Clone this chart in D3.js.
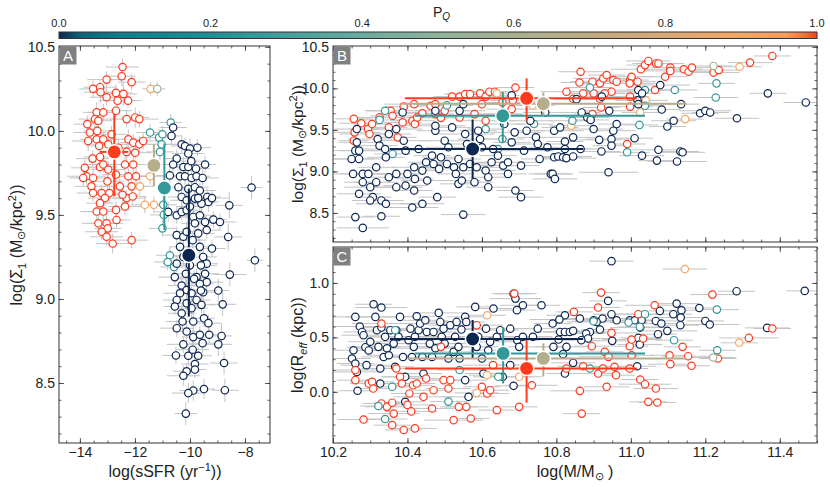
<!DOCTYPE html>
<html><head><meta charset="utf-8">
<script src="https://cdn.jsdelivr.net/npm/d3@7"></script>
<style>
body{margin:0;background:#fff}
text{font-family:"Liberation Sans",Arial,Helvetica,sans-serif;fill:#222}
</style>
</head><body>
<svg id="chart" width="830" height="487"></svg>
<script>
// ---------- colour map (P_Q) ----------
const pqStops  = [0, 0.03, 0.08, 0.2, 0.3, 0.4, 0.5, 0.6, 0.7, 0.8, 0.9, 0.96, 0.985, 1];
const pqColors = ["#0c2650","#0d6577","#0f7e8a","#1f8f94","#45a09c","#6aab9f","#8fb29c","#a9b090","#bfab83","#d8a877","#f4a766","#fb9a5c","#ff6a3a","#ff3a1e"];
const cbTicks  = [0, 0.2, 0.4, 0.6, 0.8, 1.0];

// ---------- tick values ----------
const ticksAx = [-14, -12, -10, -8];
const ticksSigma = [8.5, 9.0, 9.5, 10.0, 10.5];
const ticksMass = [10.2, 10.4, 10.6, 10.8, 11.0, 11.2, 11.4];
const ticksReff = [0.0, 0.5, 1.0];

// ---------- panel A: [log sSFR, log Sigma1, P_Q, xerr, yerr] ----------
const pointsA = [
[-12.45,10.38,1,.6,.05],[-12.48,10.325,1,.5,.06],[-13.03,10.305,1,.7,.05],[-13.27,10.26,1,.6,.04],[-13.52,10.25,1,.5,.05],[-13.25,10.23,1,.6,.06],[-12.12,10.29,1,.5,.05],[-12.69,10.226,1,.6,.05],[-12.42,10.22,1,.5,.07],[-13.03,10.2,1,.6,.05],
[-12.63,10.18,1,.7,.05],[-12.25,10.18,1,.5,.04],[-12.69,10.12,1,.6,.05],[-13.39,10.11,1,.5,.06],[-13.15,10.11,1,.6,.05],[-13.45,10.07,1,.6,.05],[-13.33,10.06,1,.5,.04],[-12.3,10.07,1,.6,.05],[-11.99,10.08,1,.5,.06],[-11.84,10.07,1,.7,.05],
[-13.64,9.99,1,.6,.05],[-13.37,10.0,1,.5,.05],[-13.7,9.94,1,.6,.06],[-13.39,9.95,1,.6,.05],[-13.15,9.95,1,.5,.04],[-12.97,9.92,1,.6,.05],[-13.3,9.91,1,.5,.05],[-12.24,9.95,1,.6,.06],[-12.06,9.93,1,.5,.05],[-11.84,9.92,1,.6,.05],
[-11.7,9.94,1,.7,.05],[-11.99,9.87,1,.6,.04],[-12.3,9.875,1,.5,.05],[-13.54,9.835,1,.6,.05],[-13.27,9.845,1,.6,.06],[-13.82,9.78,1,.5,.05],[-13.76,9.73,1,.7,.05],[-13.52,9.72,1,.6,.05],[-13.27,9.785,1,.5,.04],[-13.15,9.8,1,.6,.05],
[-12.97,9.77,1,.6,.05],[-12.36,9.8,1,.5,.06],[-12.06,9.8,1,.6,.05],[-11.96,9.73,1,.7,.05],[-12.24,9.73,1,.6,.05],[-12.69,9.74,1,.5,.05],[-12.55,9.67,1,.6,.06],[-12.12,9.67,1,.6,.05],[-13.88,9.72,1,.5,.05],[-13.58,9.67,1,.6,.04],
[-13.52,9.63,1,.6,.05],[-13.21,9.63,1,.5,.05],[-12.93,9.63,1,.6,.06],[-13.09,9.6,1,.6,.05],[-13.27,9.57,1,.5,.05],[-13.39,9.52,1,.6,.05],[-13.15,9.52,1,.6,.06],[-12.69,9.53,1,.5,.05],[-12.3,9.6,1,.7,.05],[-12.36,9.55,1,.6,.05],
[-12.08,9.61,1,.5,.05],[-13.33,9.45,1,.6,.05],[-13.03,9.45,1,.6,.06],[-12.99,9.42,1,.5,.05],[-13.21,9.4,1,.6,.05],[-13.03,9.37,1,.6,.05],[-12.67,9.47,1,.5,.05],[-12.81,9.33,1,.6,.06],[-12.12,9.35,1,.6,.05],[-13.73,10.04,1,.5,.05],
[-12.85,9.98,1,.6,.05],[-12.6,9.9,1,.5,.05],[-13.0,9.7,1,.6,.05],[-12.45,9.62,1,.6,.05],
[-11.43,10.25,0.9,.3,.04],[-11.19,10.25,0.6,.3,.04],[-11.45,9.73,0.9,.5,.05],[-11.64,9.56,0.9,.5,.05],[-11.31,9.56,0.9,.4,.05],[-11.82,9.67,0.9,.5,.05],
[-11.45,9.99,.25,.5,.05],[-11.12,9.96,.25,.5,.05],[-11.0,9.98,.25,.5,.05],[-10.7,10.05,.25,.4,.05],[-11.09,9.875,.25,.5,.05],[-11.03,9.92,.25,.5,.05],[-10.97,9.56,.25,.5,.05],[-10.95,9.5,.25,.5,.05],[-11.0,9.42,.25,.5,.05],[-10.73,9.26,.25,.5,.05],[-10.81,9.22,.25,.5,.05],[-10.58,9.19,.25,.5,.05],
[-10.61,10.02,0,.5,.06],[-10.67,9.97,0,.4,.05],[-10.3,9.92,0,.6,.05],[-10.18,9.91,0,.5,.05],[-10.0,9.895,0,.4,.06],[-9.73,9.9,0,.5,.05],[-10.06,9.865,0,.6,.05],[-10.48,9.835,0,.5,.05],[-10.61,9.8,0,.4,.05],[-10.24,9.785,0,.5,.06],
[-10.06,9.785,0,.6,.05],[-9.78,9.775,0,.5,.05],[-9.45,9.8,0,.4,.05],[-10.73,9.735,0,.5,.05],[-10.36,9.73,0,.6,.06],[-10.18,9.73,0,.5,.05],[-9.94,9.72,0,.4,.05],[-9.76,9.73,0,.5,.05],[-9.54,9.72,0,.6,.05],[-10.42,9.665,0,.5,.06],
[-10.06,9.655,0,.4,.05],[-9.82,9.665,0,.5,.05],[-9.64,9.645,0,.6,.05],[-9.37,9.607,0,.5,.05],[-9.33,9.577,0,.4,.06],[-10.3,9.607,0,.5,.05],[-10.12,9.587,0,.6,.05],[-9.82,9.597,0,.5,.05],[-9.58,9.567,0,.4,.05],[-10.79,9.518,0,.5,.06],
[-10.48,9.498,0,.6,.05],[-10.3,9.518,0,.5,.05],[-10.12,9.528,0,.4,.05],[-9.88,9.488,0,.5,.05],[-9.64,9.498,0,.6,.06],[-9.82,9.45,0,.5,.05],[-9.45,9.458,0,.4,.05],[-9.15,9.472,0,.5,.05],[-8.91,9.458,0,.6,.05],[-8.57,9.557,0,.5,.08],
[-7.76,9.663,0,.4,.07],[-8.61,9.369,0,.5,.08],[-8.55,9.145,0,.6,.07],[-10.48,9.38,0,.5,.05],[-10.24,9.37,0,.4,.05],[-10.12,9.4,0,.5,.06],[-9.7,9.39,0,.6,.05],[-9.39,9.41,0,.5,.05],[-10.36,9.31,0,.4,.05],[-10.24,9.25,0,.5,.05],
[-9.64,9.31,0,.6,.06],[-9.52,9.25,0,.5,.05],[-9.39,9.21,0,.4,.05],[-10.48,9.21,0,.5,.05],[-7.64,9.23,0,.3,.07],[-10.55,9.13,0,.6,.05],[-10.15,9.15,0,.5,.06],[-9.76,9.13,0,.4,.05],[-9.45,9.15,0,.5,.05],[-9.39,9.1,0,.6,.05],
[-10.3,9.08,0,.5,.05],[-10.12,9.053,0,.4,.06],[-9.64,9.09,0,.5,.05],[-10.36,9.034,0,.6,.05],[-9.94,9.034,0,.5,.05],[-9.52,9.04,0,.4,.05],[-10.48,8.994,0,.5,.06],[-10.12,8.974,0,.6,.05],[-9.76,8.994,0,.5,.05],[-10.55,8.955,0,.4,.05],
[-10.3,8.915,0,.5,.05],[-9.94,8.945,0,.6,.06],[-9.58,8.965,0,.5,.05],[-8.97,9.05,0,.4,.07],[-8.81,8.968,0,.5,.07],[-10.27,8.866,0,.6,.05],[-9.88,8.866,0,.5,.06],[-9.49,8.885,0,.4,.05],[-9.33,8.856,0,.5,.05],[-10.48,8.826,0,.6,.05],
[-10.12,8.806,0,.5,.06],[-9.88,8.773,0,.4,.05],[-9.64,8.787,0,.5,.05],[-9.3,8.787,0,.6,.05],[-9.54,8.737,0,.5,.06],[-8.85,8.78,0,.4,.07],[-8.97,8.73,0,.5,.07],[-10.24,8.73,0,.6,.05],[-10.51,8.664,0,.5,.05],[-10.06,8.662,0,.4,.06],
[-9.7,8.662,0,.5,.05],[-9.9,8.698,0,.6,.05],[-9.82,8.613,0,.5,.06],[-9.82,8.58,0,.4,.05],[-10.12,8.57,0,.5,.05],[-10.24,8.543,0,.6,.06],[-8.76,8.619,0,.5,.07],[-9.49,8.464,0,.4,.06],[-9.88,8.455,0,.5,.06],[-10.06,8.44,0,.6,.06],
[-8.73,8.457,0,.5,.07],[-10.15,8.318,0,.4,.07],[-9.9,9.35,0,.5,.05],[-9.6,9.2,0,.6,.05],[-10.0,9.55,0,.5,.05],[-9.7,9.6,0,.4,.05],[-9.95,9.82,0,.5,.05],[-9.2,9.6,0,.6,.05],[-9.6,9.05,0,.5,.05],[-10.0,9.2,0,.4,.05],[-9.2,9.3,0,.5,.05],[-9.85,9.12,0,.6,.05]
];

// ---------- panel B: [log M, log Sigma1, P_Q, xerr] ----------
const pointsB = [
[10.256,9.633,1,.05],[10.258,9.47,1,.07],[10.256,9.37,1,.04],[10.276,9.58,1,.06],[10.294,9.51,1,.05],[10.298,9.45,1,.08],[10.305,9.57,1,.05],[10.325,9.65,1,.06],[10.35,9.53,1,.05],[10.355,9.73,1,.07],
[10.374,9.41,1,.05],[10.36,9.67,1,.06],[10.39,9.78,1,.05],[10.418,9.81,1,.08],[10.387,9.59,1,.05],[10.413,9.61,1,.06],[10.42,9.57,1,.05],[10.44,9.70,1,.07],[10.462,9.79,1,.05],[10.475,9.81,1,.06],
[10.475,9.69,1,.05],[10.50,9.73,1,.08],[10.52,9.90,1,.05],[10.54,9.90,1,.06],[10.555,9.93,1,.05],[10.568,9.93,1,.07],[10.58,9.69,1,.05],[10.595,9.94,1,.06],[10.6,9.81,1,.05],[10.61,9.90,1,.08],
[10.62,9.96,1,.05],[10.635,9.96,1,.06],[10.655,9.83,1,.05],[10.68,9.75,1,.07],[10.69,10.01,1,.05],[10.683,9.855,1,.06],[10.66,9.69,1,.05],[10.61,9.61,1,.08],[10.54,9.65,1,.05],[10.49,9.645,1,.06],[10.426,9.65,1,.05],
[10.865,10.2,1,.06],[10.862,10.07,1,.05],[10.827,9.96,1,.07],[10.872,9.94,1,.05],[10.897,10.08,1,.06],[10.917,10.06,1,.05],[10.926,10.12,1,.08],[10.935,10.16,1,.05],[10.953,10.1,1,.06],[10.962,10.08,1,.05],
[10.948,9.96,1,.07],[10.93,9.94,1,.05],[10.917,9.875,1,.06],[10.92,9.77,1,.05],[10.9,9.94,1,.08],[10.998,10.1,1,.05],[11.002,10.14,1,.06],[11.018,10.08,1,.05],[10.997,10.06,1,.07],[10.998,9.9,1,.05],
[10.998,9.78,1,.06],[10.99,9.33,1,.05],[11.027,10.23,1,.08],[11.038,10.28,1,.05],[11.047,10.33,1,.06],[11.068,10.3,1,.05],[11.074,10.3,1,.07],[11.065,9.98,1,.05],[11.092,10.14,1,.06],[11.106,10.25,1,.05],
[11.106,10.21,1,.08],[11.142,10.23,1,.05],[11.155,10.2,1,.06],[11.164,10.25,1,.05],[11.222,10.19,1,.07],[11.236,10.22,1,.05],[11.32,10.31,1,.06],[11.38,10.39,1,.05],[10.845,9.875,1,.06],[10.897,9.69,1,.05],
[11.222,10.27,0.6,.05],
[11.292,10.26,0.9,.06],[11.146,9.63,0.9,.05],[11.04,9.855,0.9,.06],[11.025,9.71,0.9,.05],[10.84,9.55,0.9,.06],[10.64,9.94,0.9,.05],[10.736,9.795,0.9,.06],
[10.34,9.73,.25,.05],[10.325,9.62,.25,.06],[10.36,9.21,.25,.05],[10.506,9.795,.25,.07],[10.61,9.51,.25,.05],[10.655,9.39,.25,.06],[10.643,9.27,.25,.05],[10.648,9.69,.25,.06],[10.74,9.57,.25,.05],
[10.89,10.01,.25,.06],[11.038,9.98,.25,.05],[11.118,9.98,.25,.06],[11.23,10.06,.25,.05],[11.228,9.89,.25,.06],[11.023,9.56,.25,.05],[10.99,9.23,.25,.06],[11.038,9.79,.25,.05],[10.843,9.61,.25,.06],
[10.25,9.15,0,.06],[10.254,8.97,0,.05],[10.26,9.25,0,.07],[10.264,9.35,0,.05],[10.264,9.51,0,.06],[10.27,9.25,0,.05],[10.27,9.15,0,.08],[10.28,8.87,0,.05],[10.28,8.97,0,.06],[10.295,8.97,0,.05],
[10.3,8.81,0,.07],[10.307,8.69,0,.05],[10.316,8.87,0,.06],[10.316,9.05,0,.05],[10.32,9.39,0,.08],[10.325,9.31,0,.05],[10.33,8.65,0,.06],[10.33,8.46,0,.05],[10.28,8.32,0,.07],[10.26,8.45,0,.05],
[10.27,8.73,0,.06],[10.3,8.65,0,.05],[10.342,8.61,0,.08],[10.342,9.17,0,.05],[10.34,9.27,0,.06],[10.35,8.93,0,.05],[10.37,9.51,0,.07],[10.37,8.97,0,.05],[10.35,9.45,0,.06],[10.387,9.71,0,.05],
[10.39,9.37,0,.08],[10.395,9.25,0,.05],[10.395,8.83,0,.06],[10.4,8.97,0,.05],[10.413,8.565,0,.07],[10.418,8.77,0,.05],[10.418,9.05,0,.06],[10.42,8.91,0,.05],[10.43,9.27,0,.08],[10.44,9.01,0,.05],
[10.44,8.61,0,.06],[10.45,9.11,0,.05],[10.453,8.89,0,.07],[10.466,9.19,0,.05],[10.47,9.09,0,.06],[10.475,9.49,0,.05],[10.475,9.55,0,.08],[10.475,9.73,0,.05],[10.485,9.03,0,.06],[10.49,9.17,0,.05],
[10.50,9.37,0,.07],[10.506,9.09,0,.05],[10.51,9.29,0,.06],[10.52,9.53,0,.05],[10.525,9.05,0,.08],[10.53,8.97,0,.05],[10.537,9.15,0,.06],[10.537,8.85,0,.05],[10.54,9.73,0,.07],[10.546,8.89,0,.05],
[10.55,8.48,0,.06],[10.55,9.05,0,.05],[10.555,9.45,0,.08],[10.56,9.33,0,.05],[10.568,9.09,0,.06],[10.58,8.87,0,.05],[10.586,9.05,0,.07],[10.59,9.49,0,.05],[10.595,9.39,0,.06],[10.6,9.29,0,.05],
[10.61,9.01,0,.08],[10.617,8.93,0,.05],[10.617,8.81,0,.06],[10.626,9.11,0,.05],[10.63,9.27,0,.07],[10.643,9.19,0,.05],[10.657,9.07,0,.06],[10.66,9.57,0,.05],[10.67,9.11,0,.08],[10.67,8.97,0,.05],
[10.68,9.915,0,.06],[10.68,9.35,0,.05],[10.688,9.47,0,.07],[10.69,8.77,0,.05],[10.705,8.69,0,.06],[10.705,9.07,0,.05],[10.713,9.25,0,.08],[10.72,9.49,0,.05],[10.73,9.61,0,.06],[10.745,9.41,0,.05],
[10.75,9.33,0,.07],[10.755,9.15,0,.05],[10.77,9.71,0,.06],[10.776,9.29,0,.05],[10.794,9.49,0,.08],[10.794,9.17,0,.05],[10.785,8.97,0,.06],[10.48,8.69,0,.05],[10.37,8.81,0,.07],[10.55,9.81,0,.05],
[10.854,9.87,0,.06],[10.922,9.9,0,.05],[10.942,9.73,0,.07],[10.868,9.71,0,.05],[10.883,9.65,0,.06],[10.892,9.62,0,.05],[10.9,9.51,0,.08],[10.81,9.53,0,.05],[10.845,9.41,0,.06],[10.823,9.36,0,.05],
[10.823,9.27,0,.07],[10.865,9.27,0,.05],[10.805,9.18,0,.06],[10.818,9.17,0,.05],[10.827,9.16,0,.08],[10.845,9.18,0,.05],[10.915,9.38,0,.06],[10.921,9.24,0,.05],[10.948,9.39,0,.07],[10.948,9.31,0,.05],
[10.953,9.49,0,.06],[10.962,9.57,0,.05],[10.94,8.99,0,.08],[10.79,8.97,0,.05],[10.796,8.91,0,.06],[11.01,9.4,0,.05],[11.02,9.98,0,.07],[11.03,9.94,0,.05],[11.018,9.855,0,.06],[11.02,9.81,0,.05],
[11.079,10.04,0,.08],[11.083,9.745,0,.05],[11.03,9.19,0,.06],[11.07,9.13,0,.05],[11.074,9.26,0,.07],[11.098,9.54,0,.05],[11.115,9.61,0,.06],[11.135,9.81,0,.05],[11.124,9.12,0,.08],[11.133,9.24,0,.05],
[11.139,9.23,0,.06],[11.186,9.7,0,.05],[11.2,9.73,0,.07],[11.213,9.71,0,.05],[11.285,9.64,0,.06],[11.368,9.94,0,.05],[11.47,9.83,0,.06]
];

// ---------- panel C: [log M, log Reff, P_Q, xerr] ----------
const pointsC = [
[10.26,0.688,0,.06],[10.251,0.306,0,.05],[10.255,0.382,0,.07],[10.26,0.26,0,.05],[10.264,0.183,0,.06],[10.266,0.01,0,.05],[10.272,0.6,0,.08],[10.278,0.55,0,.05],[10.282,0.52,0,.06],[10.287,0.41,0,.05],
[10.29,0.245,0,.07],[10.296,0.38,0,.05],[10.3,0.46,0,.06],[10.309,0.804,0,.05],[10.314,0.688,0,.08],[10.318,0.566,0,.05],[10.322,0.413,0,.06],[10.327,0.214,0,.05],[10.33,0.774,0,.07],[10.33,0.59,0,.05],
[10.336,0.32,0,.06],[10.34,0.505,0,.05],[10.345,0.4,0,.08],[10.327,0.076,0,.05],[10.35,0.336,0,.06],[10.354,0.566,0,.05],[10.363,0.443,0,.07],[10.367,0.23,0,.05],[10.37,0.566,0,.06],[10.38,0.688,0,.05],
[10.376,0.505,0,.08],[10.388,0.32,0,.05],[10.394,0.138,0,.06],[10.394,-0.092,0,.05],[10.403,0.474,0,.07],[10.408,0.58,0,.05],[10.412,0.32,0,.06],[10.417,0.413,0,.05],[10.42,0.505,0,.08],[10.425,0.694,0,.05],
[10.43,0.566,0,.06],[10.434,0.627,0,.05],[10.44,0.32,0,.07],[10.443,0.168,0,.05],[10.448,0.657,0,.06],[10.452,0.55,0,.05],[10.46,0.443,0,.08],[10.466,0.32,0,.05],[10.47,0.55,0,.06],[10.475,0.4,0,.05],
[10.484,0.725,0,.07],[10.488,0.642,0,.05],[10.492,0.505,0,.06],[10.497,0.58,0,.05],[10.5,0.443,0,.08],[10.51,0.306,0,.05],[10.515,0.612,0,.06],[10.524,0.367,0,.05],[10.528,0.505,0,.07],[10.532,0.642,0,.05],
[10.537,0.413,0,.06],[10.54,0.306,0,.05],[10.545,0.572,0,.08],[10.555,0.688,0,.05],[10.555,0.107,0,.06],[10.558,0.642,0,.05],[10.564,-0.046,0,.07],[10.582,0.78,0,.05],[10.586,0.413,0,.06],[10.59,0.505,0,.05],
[10.6,0.306,0,.08],[10.604,0.168,0,.05],[10.611,0.58,0,.06],[10.617,0.382,0,.05],[10.622,0.459,0,.07],[10.631,0.765,0,.05],[10.64,0.505,0,.06],[10.649,0.566,0,.05],[10.656,0.138,0,.08],[10.676,0.58,0,.05],
[10.676,0.245,0,.06],[10.685,0.9,0,.05],[10.69,0.856,0,.07],[10.694,0.75,0,.05],[10.695,0.474,0,.06],[10.7,0.413,0,.05],[10.71,0.505,0,.08],[10.685,0.055,0,.05],[10.71,0.795,0,.06],[10.737,0.505,0,.05],
[10.75,0.58,0,.07],[10.76,0.795,0,.05],
[10.948,1.2,0,.06],[10.939,0.835,0,.05],[10.924,0.673,0,.07],[10.948,0.713,0,.05],[10.962,0.657,0,.06],[10.917,0.572,0,.05],[10.908,0.642,0,.08],[10.9,0.657,0,.05],[10.89,0.55,0,.06],[10.88,0.535,0,.05],
[10.885,0.49,0,.07],[10.867,0.474,0,.05],[10.863,0.673,0,.06],[10.823,0.703,0,.05],[10.808,0.664,0,.08],[10.79,0.627,0,.05],[10.81,0.55,0,.06],[10.823,0.55,0,.05],[10.836,0.55,0,.07],[10.845,0.56,0,.05],
[10.806,0.48,0,.06],[10.792,0.413,0,.05],[10.827,0.413,0,.08],[10.818,0.346,0,.05],[10.845,0.266,0,.06],[10.823,0.168,0,.05],[10.95,0.468,0,.07],[10.997,0.657,0,.05],[11.011,0.657,0,.06],[11.029,0.657,0,.05],
[11.025,0.59,0,.08],[11.02,0.495,0,.05],[11.024,0.434,0,.06],[11.017,0.235,0,.05],[11.067,0.651,0,.07],[11.078,0.743,0,.05],[11.082,0.627,0,.06],[11.073,0.529,0,.05],[11.098,0.56,0,.08],[11.114,0.713,0,.05],
[11.123,0.81,0,.06],[11.136,0.749,0,.05],[11.134,0.682,0,.07],[11.133,0.612,0,.05],[11.184,0.77,0,.06],[11.2,0.651,0,.05],[11.212,0.618,0,.08],[11.284,0.924,0,.05],[11.366,0.587,0,.06],[11.467,0.927,0,.05],
[10.26,0.2,1,.06],[10.26,0.107,1,.05],[10.282,-0.254,1,.07],[10.296,0.076,1,.05],[10.305,0.092,1,.06],[10.308,0.03,1,.05],[10.33,0.627,1,.08],[10.33,-0.107,1,.05],[10.345,-0.138,1,.06],[10.359,-0.1,1,.05],
[10.363,-0.2,1,.07],[10.359,-0.306,1,.05],[10.37,0.214,1,.06],[10.38,0.138,1,.05],[10.385,0.076,1,.08],[10.39,-0.35,1,.05],[10.4,-0.12,1,.06],[10.405,-0.015,1,.05],[10.41,-0.18,1,.07],[10.415,0.06,1,.05],
[10.42,-0.336,1,.06],[10.425,0.076,1,.05],[10.443,-0.046,1,.08],[10.45,0.122,1,.05],[10.466,-0.153,1,.06],[10.47,0.015,1,.05],[10.49,0.413,1,.07],[10.497,0.107,1,.05],[10.51,0.03,1,.06],[10.515,0.107,1,.05],
[10.524,-0.26,1,.08],[10.538,-0.138,1,.05],[10.558,-0.138,1,.06],[10.57,-0.245,1,.05],[10.586,0.612,1,.07],[10.6,0.046,1,.05],[10.614,-0.015,1,.06],[10.622,0.015,1,.05],[10.63,0.245,1,.08],[10.64,-0.168,1,.05],
[10.687,0.902,1,.06],[10.7,-0.138,1,.05],[10.734,0.06,1,.07],
[10.92,0.911,1,.05],[10.912,0.774,1,.06],[10.847,0.734,1,.05],[10.863,0.009,1,.08],[10.868,-0.2,1,.05],[10.935,0.046,1,.06],[10.895,0.419,1,.05],[10.872,0.235,1,.07],[10.827,0.214,1,.05],[10.912,0.168,1,.06],
[10.93,0.367,1,.05],[10.94,0.321,1,.08],[10.925,0.214,1,.05],[10.956,0.23,1,.06],[10.96,0.153,1,.05],[10.948,0.541,1,.07],[10.997,0.419,1,.05],[11.002,0.336,1,.06],[10.997,0.214,1,.05],[11.002,0.48,1,.08],
[11.033,0.489,1,.05],[11.02,0.713,1,.06],[11.025,0.113,1,.05],[11.038,0.07,1,.07],[11.047,-0.092,1,.05],[11.067,0.03,1,.06],[11.071,-0.098,1,.05],[11.064,0.795,1,.08],[11.104,0.336,1,.05],[11.106,0.254,1,.06],
[11.139,0.413,1,.05],[11.154,0.327,1,.07],[11.163,0.239,1,.05],[11.219,0.893,1,.06],[11.234,0.306,1,.05],[11.317,0.495,1,.08],[11.38,0.581,1,.05],
[10.614,0.703,0.9,.05],[10.586,-0.01,0.9,.06],[10.614,0.153,0.9,.05],[10.7,0.138,0.9,.06],[11.145,1.128,0.9,.06],[11.291,0.45,0.9,.05],
[11.221,0.315,0.6,.06],
[10.322,-0.13,.25,.05],[10.34,-0.25,.25,.06],[10.359,0.046,.25,.05],[10.367,0.566,.25,.06],[10.51,-0.09,.25,.05],[10.54,0.2,.25,.06],[10.644,0.138,.25,.05],
[11.038,0.713,.25,.05],[11.024,0.596,.25,.06],[10.994,0.636,.25,.05],[10.9,0.648,.25,.06],[11.116,0.474,.25,.05],[11.231,0.755,.25,.06],[11.232,0.382,.25,.05],[10.89,0.214,.25,.06]
];

// ---------- group means: [x, y, xLo, xHi, yLo, yHi, P_Q] ----------
const meansA = [
[-10.04, 9.26, -10.22, -9.86, 8.895, 9.657, 0],
[-10.93, 9.66, -11.05, -10.8, 9.41, 9.925, 0.25],
[-11.31, 9.795, -11.45, -11.2, 9.67, 9.92, 0.65],
[-12.75, 9.875, -13.27, -12.24, 9.61, 10.1, 1]
];
const meansB = [
[10.575, 9.27, 10.353, 10.872, 8.91, 9.625, 0],
[10.656, 9.67, 10.42, 11.038, 9.35, 9.955, 0.25],
[10.765, 9.815, 10.38, 11.15, 9.67, 9.95, 0.65],
[10.72, 9.88, 10.393, 11.016, 9.61, 10.12, 1]
];
const meansC = [
[10.575, 0.485, 10.353, 10.872, 0.31, 0.66, 0],
[10.657, 0.353, 10.42, 11.038, 0.077, 0.59, 0.25],
[10.765, 0.307, 10.4, 11.15, 0.14, 0.445, 0.65],
[10.72, 0.215, 10.393, 11.016, -0.1, 0.475, 1]
];

// ---------- drawing ----------
const svg = d3.select("#chart");
const color = d3.scaleLinear().domain(pqStops).range(pqColors).interpolate(d3.interpolateRgb);

const panels = {
  A: {x0:59, y0:46, w:211, h:397, xd:[-14.76,-7.09], yd:[8.143,10.505]},
  B: {x0:333, y0:46, w:484, h:196, xd:[10.2,11.5], yd:[8.15,10.51]},
  C: {x0:333, y0:247, w:484, h:196, xd:[10.2,11.5], yd:[-0.47,1.33]}
};

function range(a,b,s){ const out=[]; for(let v=a; v<=b+1e-9; v+=s) out.push(+v.toFixed(4)); return out; }

function drawPanel(key, pts, means, opt){
  const P = panels[key];
  const g = svg.append("g").attr("transform",`translate(${P.x0},${P.y0})`);
  const x = d3.scaleLinear().domain(P.xd).range([0,P.w]);
  const y = d3.scaleLinear().domain(P.yd).range([P.h,0]);
  const cid = "clip"+key;
  g.append("clipPath").attr("id",cid).append("rect").attr("width",P.w).attr("height",P.h);
  const plot = g.append("g").attr("clip-path",`url(#${cid})`);

  // gray error bars
  const eb = plot.append("g").attr("stroke","#c4c4c4").attr("stroke-width",1);
  pts.forEach(d=>{
    const xe = d[3], ye = (d.length>4? d[4] : opt.yerr);
    eb.append("line").attr("x1",x(d[0]-xe)).attr("x2",x(d[0]+xe)).attr("y1",y(d[1])).attr("y2",y(d[1]));
    eb.append("line").attr("x1",x(d[0])).attr("x2",x(d[0])).attr("y1",y(d[1]-ye)).attr("y2",y(d[1]+ye));
  });
  // open circles
  plot.append("g").selectAll("circle").data(pts).join("circle")
    .attr("cx",d=>x(d[0])).attr("cy",d=>y(d[1])).attr("r",3.7)
    .attr("fill","#fff").attr("stroke",d=>color(d[2])).attr("stroke-width",1.2);
  // mean error bars
  const mg = plot.append("g");
  means.forEach(m=>{
    const c = color(m[6]);
    mg.append("line").attr("x1",x(m[2])).attr("x2",x(m[3])).attr("y1",y(m[1])).attr("y2",y(m[1])).attr("stroke",c).attr("stroke-width",2);
    mg.append("line").attr("x1",x(m[0])).attr("x2",x(m[0])).attr("y1",y(m[4])).attr("y2",y(m[5])).attr("stroke",c).attr("stroke-width",2);
  });
  mg.selectAll("circle").data(means).join("circle")
    .attr("cx",d=>x(d[0])).attr("cy",d=>y(d[1])).attr("r",7.2)
    .attr("fill",d=>color(d[6])).attr("stroke","#fff").attr("stroke-width",1.5);

  // ticks (inward, all four sides)
  const tcol = "#333";
  function axis(gen, tr, vals, size, fmt){
    const a = g.append("g").attr("transform",tr)
      .call(gen.tickValues(vals).tickSize(-size).tickPadding(4).tickFormat(fmt||""));
    a.select(".domain").remove();
    a.selectAll("line").attr("stroke",tcol).attr("stroke-width",0.8);
    a.selectAll("text").attr("font-size",14).attr("fill","#222").style("font-family",'"Liberation Sans",Arial,sans-serif');
    return a;
  }
  const xMin = opt.xMinor.filter(v=>v>=P.xd[0]&&v<=P.xd[1]);
  const yMin = opt.yMinor.filter(v=>v>=P.yd[0]&&v<=P.yd[1]);
  axis(d3.axisBottom(x), `translate(0,${P.h})`, xMin, 2.5);
  axis(d3.axisTop(x), `translate(0,0)`, xMin, 2.5);
  axis(d3.axisLeft(y), `translate(0,0)`, yMin, 2.5);
  axis(d3.axisRight(y), `translate(${P.w},0)`, yMin, 2.5);
  axis(d3.axisBottom(x), `translate(0,${P.h})`, opt.xMajor, 5, opt.showX ? opt.xFmt : "");
  axis(d3.axisTop(x), `translate(0,0)`, opt.xMajor, 5);
  axis(d3.axisLeft(y), `translate(0,0)`, opt.yMajor, 5, opt.yFmt);
  axis(d3.axisRight(y), `translate(${P.w},0)`, opt.yMajor, 5);

  g.append("rect").attr("width",P.w).attr("height",P.h).attr("fill","none").attr("stroke","#333").attr("stroke-width",1);
  // panel label
  g.append("rect").attr("x",0.5).attr("y",0.5).attr("width",17).attr("height",18).attr("fill","#808080");
  g.append("text").attr("x",9).attr("y",15).attr("text-anchor","middle").attr("font-size",15).style("fill","#fff").text(key);
  return g;
}

const f1 = d3.format(".1f");
drawPanel("A", pointsA, meansA, {xMajor:ticksAx, xMinor:range(-14.5,-7.5,0.5), yMajor:ticksSigma, yMinor:range(8.2,10.5,0.1), showX:true, xFmt:d3.format("d"), yFmt:f1});
drawPanel("B", pointsB, meansB, {xMajor:ticksMass, xMinor:range(10.2,11.5,0.05), yMajor:ticksSigma, yMinor:range(8.2,10.5,0.1), showX:false, yFmt:f1, yerr:0.04});
drawPanel("C", pointsC, meansC, {xMajor:ticksMass, xMinor:range(10.2,11.5,0.05), yMajor:ticksReff, yMinor:range(-0.4,1.3,0.1), showX:true, xFmt:f1, yFmt:f1, yerr:0.03});

// ---------- colour bar ----------
const cb = {x0:59, x1:817, y:32, h:6.5};
const defs = svg.append("defs");
const grad = defs.append("linearGradient").attr("id","pqgrad");
pqStops.forEach((s,i)=>grad.append("stop").attr("offset",s).attr("stop-color",pqColors[i]));
svg.append("rect").attr("x",cb.x0).attr("y",cb.y).attr("width",cb.x1-cb.x0).attr("height",cb.h)
  .attr("fill","url(#pqgrad)").attr("stroke","#333").attr("stroke-width",1);
const cbx = d3.scaleLinear().domain([0,1]).range([cb.x0,cb.x1]);
svg.append("g").selectAll("text").data(cbTicks).join("text")
  .attr("x",d=>cbx(d)).attr("y",27).attr("text-anchor","middle").attr("font-size",11).text(d=>f1(d));
const pq = svg.append("text").attr("x",433).attr("y",17).attr("font-size",14);
pq.append("tspan").text("P");
pq.append("tspan").attr("font-size",10).attr("dy",3).attr("font-style","italic").text("Q");

// ---------- axis labels ----------
function sigmaLabel(t){
  t.append("tspan").text("log(Σ");
  t.append("tspan").attr("font-size",11).attr("dy",4).text("1");
  t.append("tspan").attr("dy",-4).text(" (M");
  t.append("tspan").attr("font-size",11).attr("dy",3).text("⊙");
  t.append("tspan").attr("dy",-3).text("/kpc");
  t.append("tspan").attr("font-size",11).attr("dy",-6).text("2");
  t.append("tspan").attr("dy",6).text("))");
}
sigmaLabel(svg.append("text").attr("transform","translate(22,245) rotate(-90)").attr("text-anchor","middle").attr("font-size",16));
sigmaLabel(svg.append("text").attr("transform","translate(303,144) rotate(-90)").attr("text-anchor","middle").attr("font-size",15.5));

const rl = svg.append("text").attr("transform","translate(303,345) rotate(-90)").attr("text-anchor","middle").attr("font-size",16);
rl.append("tspan").text("log(R");
rl.append("tspan").attr("font-size",11).attr("dy",4).attr("font-style","italic").text("eff");
rl.append("tspan").attr("dy",-4).text(" (kpc))");

const xl = svg.append("text").attr("x",165).attr("y",477).attr("text-anchor","middle").attr("font-size",16);
xl.append("tspan").text("log(sSFR (yr");
xl.append("tspan").attr("font-size",11).attr("dy",-6).text("−1");
xl.append("tspan").attr("dy",6).text("))");

const ml = svg.append("text").attr("x",575).attr("y",477).attr("text-anchor","middle").attr("font-size",16);
ml.append("tspan").text("log(M/M");
ml.append("tspan").attr("font-size",11).attr("dy",3).text("⊙");
ml.append("tspan").attr("dy",-3).text(" )");
</script>
</body></html>
